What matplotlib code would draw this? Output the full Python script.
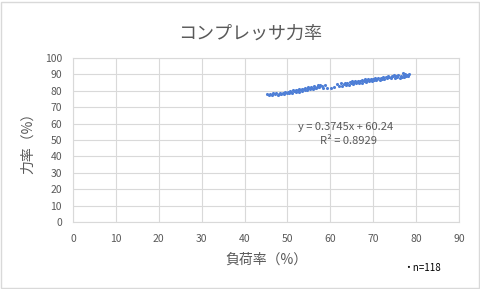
import matplotlib
matplotlib.use("Agg")
import matplotlib.pyplot as plt
from matplotlib.patches import Rectangle

plt.rcParams['font.family'] = ['Noto Sans CJK JP', 'DejaVu Sans']

TITLE = "コンプレッサ力率"
X_LABEL = "負荷率（%）"
Y_LABEL = "力率（%）"
EQUATION = "y = 0.3745x + 60.24"
R_SQUARED = "R² = 0.8929"
N_NOTE = "・n=118"

X_TICKS = [0, 10, 20, 30, 40, 50, 60, 70, 80, 90]
Y_TICKS = [0, 10, 20, 30, 40, 50, 60, 70, 80, 90, 100]

# load factor (%)
load = [
    45.2, 45.6, 46.0, 46.3, 46.7, 47.0, 47.4, 47.7, 48.0, 48.3,
    48.6, 48.9, 49.2, 49.5, 49.8, 50.1, 50.3, 50.6, 50.9, 51.1,
    51.4, 51.6, 51.9, 52.1, 52.4, 52.6, 52.8, 53.1, 53.3, 53.5,
    53.8, 54.0, 54.2, 54.5, 54.7, 54.9, 55.2, 55.4, 55.6, 55.9,
    56.1, 56.3, 56.6, 56.8, 57.1, 57.4, 57.7, 58.0, 58.4, 58.8,
    59.3, 60.1, 60.8, 61.5, 62.0, 62.4, 62.8, 63.1, 63.4, 63.7,
    64.0, 64.3, 64.5, 64.8, 65.0, 65.3, 65.5, 65.8, 66.0, 66.3,
    66.5, 66.8, 67.0, 67.3, 67.5, 67.8, 68.0, 68.3, 68.5, 68.8,
    69.0, 69.2, 69.5, 69.7, 70.0, 70.2, 70.5, 70.7, 71.0, 71.2,
    71.5, 71.8, 72.0, 72.3, 72.6, 72.9, 73.2, 73.5, 73.8, 74.1,
    74.4, 74.7, 75.0, 75.3, 75.6, 75.9, 76.2, 76.5, 76.8, 77.1,
    77.3, 77.5, 77.7, 77.9, 78.1, 78.3, 76.9, 74.9,
]

# power factor (%)
pf = [
    77.8, 77.5, 78.1, 77.2, 78.4, 77.9, 78.6, 77.6, 78.3, 79.0,
    77.9, 78.8, 78.2, 79.3, 78.5, 79.4, 78.6, 79.9, 79.1, 78.9,
    80.3, 79.7, 80.6, 79.2, 80.4, 81.0, 79.6, 80.8, 81.4, 80.1,
    81.2, 80.7, 81.8, 80.3, 81.5, 82.1, 80.9, 81.7, 82.4, 81.1,
    82.0, 83.0, 81.6, 82.6, 83.3, 82.2, 83.6, 82.9, 81.8, 83.4,
    82.0, 81.6, 82.3, 84.2, 83.1, 84.6, 82.8, 84.0, 85.0, 83.5,
    84.9, 83.8, 85.4, 84.6, 85.8, 84.1, 85.2, 86.0, 84.5, 85.6,
    86.3, 84.8, 85.9, 86.6, 85.1, 86.2, 87.0, 85.5, 86.5, 87.3,
    85.8, 86.9, 87.5, 86.0, 87.1, 86.4, 87.7, 86.8, 87.4, 88.1,
    86.7, 87.8, 87.0, 88.3, 87.5, 88.6, 87.9, 88.9, 88.2, 87.6,
    88.8, 89.2, 88.0, 89.0, 88.4, 89.5, 87.8, 89.3, 88.5, 89.9,
    88.7, 90.2, 89.0, 89.7, 88.9, 90.3, 90.6, 89.8,
]

GRID = "#d9d9d9"
TEXT = "#595959"

fig = plt.figure(figsize=(4.81, 2.89), dpi=100)
ax = fig.add_axes([0.152, 0.232, 0.802, 0.567])

ax.scatter(load, pf, s=5, color="#4f7fd6", marker="o", linewidths=0, zorder=3)

ax.set_xlim(0, 90)
ax.set_ylim(0, 100)
ax.set_xticks(X_TICKS)
ax.set_yticks(Y_TICKS)
ax.grid(True, color=GRID, linewidth=0.8)
ax.set_axisbelow(True)
for s in ax.spines.values():
    s.set_color(GRID)
    s.set_linewidth(0.8)
ax.tick_params(length=0, labelsize=7.5, labelcolor=TEXT)
ax.tick_params(axis="x", pad=9)
ax.tick_params(axis="y", pad=8)

ax.set_xlabel(X_LABEL, fontsize=10, color=TEXT, labelpad=6)
ax.set_ylabel(Y_LABEL, fontsize=10, color=TEXT, labelpad=7)

fig.text(0.52, 0.885, TITLE, ha="center", va="center", fontsize=13, color=TEXT)

ax.text(0.707, 0.580, EQUATION, transform=ax.transAxes, ha="center", va="center",
        fontsize=8, color=TEXT)
ax.text(0.715, 0.495, R_SQUARED, transform=ax.transAxes, ha="center", va="center",
        fontsize=8, color=TEXT)

fig.text(0.838, 0.073, N_NOTE, ha="left", va="center", fontsize=7, color="black")

fig.patches.append(Rectangle((0.002, 0.004), 0.994, 0.99, transform=fig.transFigure,
                             fill=False, edgecolor=GRID, linewidth=1))

fig.savefig("out.png", dpi=100)
